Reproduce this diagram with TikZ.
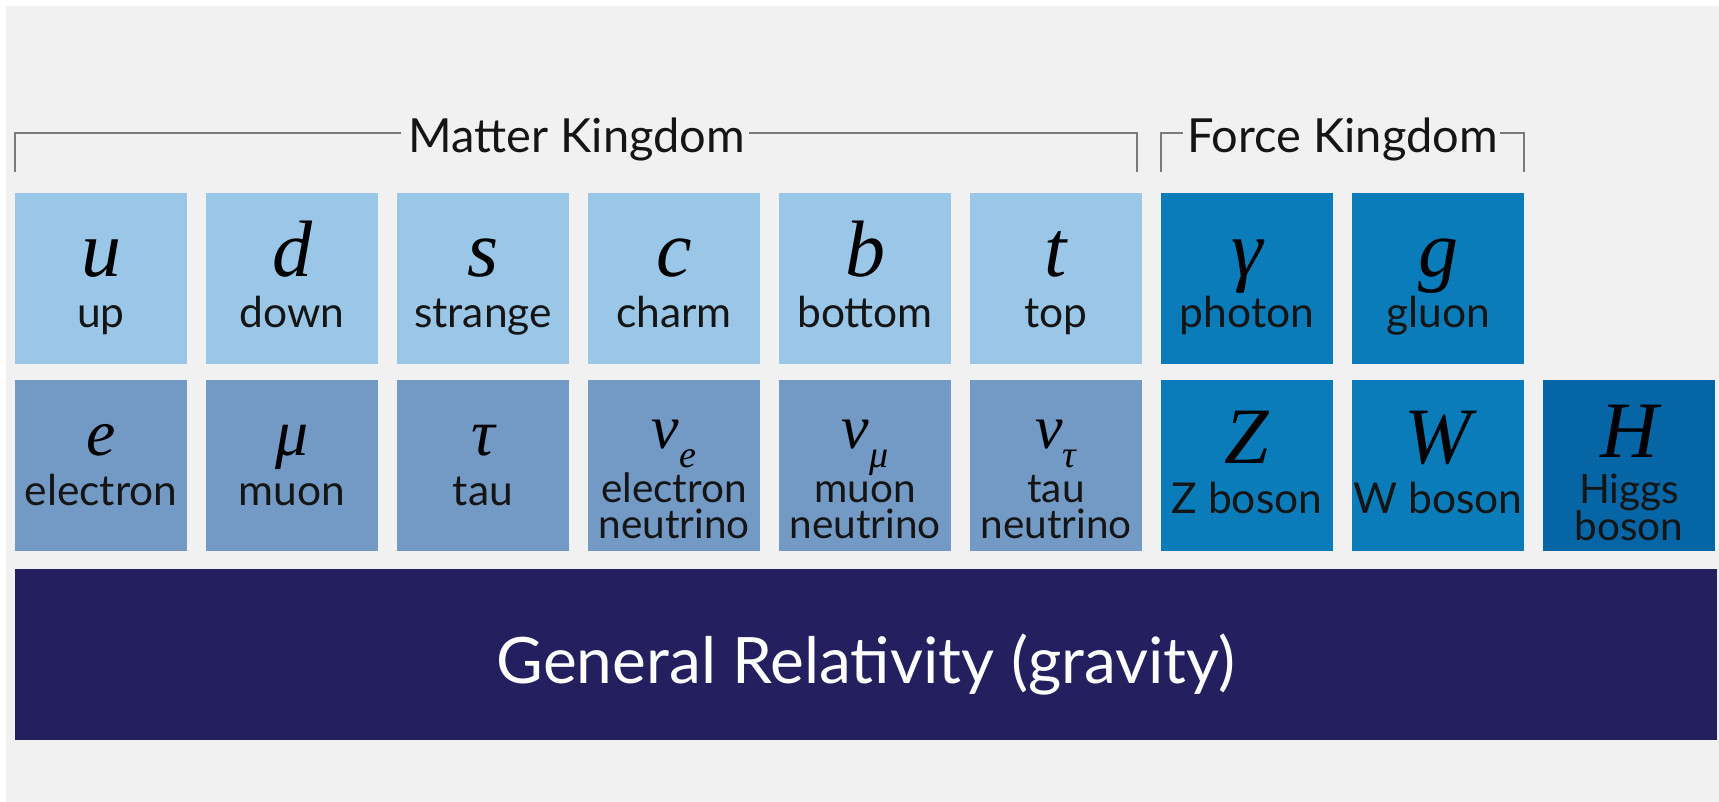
\documentclass[tikz,border=0pt]{standalone}
\usepackage{fontspec}
\setmainfont{Lato}
\newfontfamily\symf{Liberation Serif}
\usetikzlibrary{calc}
\definecolor{bgc}{HTML}{F1F1F1}
\definecolor{qa}{HTML}{9AC7E7}
\definecolor{qb}{HTML}{7399C5}
\definecolor{fb}{HTML}{0A7CBA}
\definecolor{hb}{HTML}{0565A5}
\definecolor{grav}{HTML}{241F5F}
\definecolor{brk}{HTML}{7A7A7A}
\definecolor{txt}{HTML}{151515}
\tikzset{
  cell/.style={minimum width=172pt, minimum height=171pt, inner sep=0pt, outer sep=0pt, anchor=north west, draw=none},
  symA/.style={anchor=base, inner sep=0pt, text=black, font=\symf\itshape\fontsize{80}{80}\selectfont},
  symB/.style={anchor=base, inner sep=0pt, text=black, font=\symf\itshape\fontsize{66}{66}\selectfont},
  symN/.style={anchor=base, inner sep=0pt, text=black, font=\symf\itshape\fontsize{62}{62}\selectfont},
  lab/.style={anchor=base, inner sep=0pt, text=txt, font=\fontsize{42.5}{42.5}\selectfont},
  labtwo/.style={anchor=base, inner sep=0pt, text=txt, font=\fontsize{40.5}{40.5}\selectfont},
  kingdom/.style={anchor=base, inner sep=0pt, text=txt, font=\fontsize{47}{47}\selectfont},
  bracket/.style={draw=brk, line width=2pt},
}
\newcommand\nsub[1]{\raisebox{-19pt}[0pt][0pt]{\fontsize{38}{38}\selectfont #1}}
\begin{document}
\begin{tikzpicture}[x=1pt,y=-1pt]
\useasboundingbox (0,0) rectangle (1719,802);
\fill[white] (0,0) rectangle (1719,802);
\fill[bgc] (6,6) rectangle (1719,802);

% Row 1
\foreach \n/\s/\l [count=\i from 0] in {u/u/up, d/d/down, s/s/strange, c/c/charm, b/b/bottom, t/t/top} {
  \node[cell, fill=qa] (\n) at (15+191*\i,193) {};
  \node[symA] (\n-s) at ($(\n.north)+(0,84)$) {\s};
  \node[lab] (\n-l) at ($(\n.north)+(0,135)$) {\l};
}
\foreach \n/\s/\l [count=\i from 6] in {gam/γ/photon, glu/g/gluon} {
  \node[cell, fill=fb] (\n) at (15+191*\i,193) {};
  \node[symA] (\n-s) at ($(\n.north)+(0,84)$) {\s};
  \node[lab] (\n-l) at ($(\n.north)+(0,135)$) {\l};
}

% Row 2
\foreach \n/\s/\l [count=\i from 0] in {e/e/electron, mu/μ/muon, tau/τ/tau} {
  \node[cell, fill=qb] (\n) at (15+191*\i,380) {};
  \node[symB] (\n-s) at ($(\n.north)+(0,75)$) {\s};
  \node[lab] (\n-l) at ($(\n.north)+(0,125)$) {\l};
}
\foreach \n/\s/\l [count=\i from 3] in {ne/e/electron, nm/μ/muon, nt/τ/tau} {
  \node[cell, fill=qb] (\n) at (15+191*\i,380) {};
  \node[symN] (\n-s) at ($(\n.north)+(0,68)$) {ν\nsub{\s}};
  \node[labtwo] (\n-l) at ($(\n.north)+(0,122)$) {\l};
  \node[labtwo] (\n-m) at ($(\n.north)+(0,158)$) {neutrino};
}
\foreach \n/\s/\l [count=\i from 6] in {Z/Z/Z boson, W/W/W boson} {
  \node[cell, fill=fb] (\n) at (15+191*\i,380) {};
  \node[symA] (\n-s) at ($(\n.north)+(0,83)$) {\s};
  \node[lab] (\n-l) at ($(\n.north)+(0,133)$) {\l};
}
\node[cell, fill=hb] (H) at (1543,380) {};
\node[symA] (H-s) at ($(H.north)+(0,77)$) {H};
\node[labtwo] (H-l) at ($(H.north)+(0,123)$) {Higgs};
\node[labtwo] (H-m) at ($(H.north)+(0,160)$) {boson};

% Gravity
\node[cell, fill=grav, minimum width=1702pt] (grav) at (15,569) {};
\node[anchor=base, inner sep=0pt, text=white, font=\fontsize{64}{64}\selectfont] (grav-l) at ($(grav.north)+(0,114)$) {General Relativity (gravity)};

% Kingdom brackets
\coordinate (bky) at (0,133);
\coordinate (mkL) at (15,172);
\coordinate (mkR) at (1137,172);
\coordinate (fkL) at (1161,172);
\coordinate (fkR) at (1524,172);
\node[kingdom] (mk) at (577,153) {Matter Kingdom};
\node[kingdom] (fk) at (1342.5,153) {Force Kingdom};
\draw[bracket] (mkL) -- (mkL |- bky) -- ([xshift=-8pt]mk.west |- bky);
\draw[bracket] ([xshift=4pt]mk.east |- bky) -- (mkR |- bky) -- (mkR);
\draw[bracket] (fkL) -- (fkL |- bky) -- ([xshift=-4pt]fk.west |- bky);
\draw[bracket] ([xshift=2pt]fk.east |- bky) -- (fkR |- bky) -- (fkR);
\end{tikzpicture}
\end{document}
